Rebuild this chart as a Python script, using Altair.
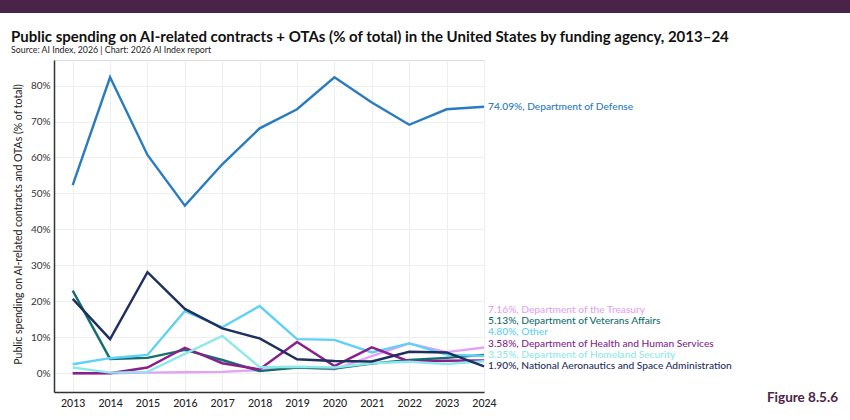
import altair as alt
import pandas as pd

years = list(range(2013, 2025))

series_names = [
    "Department of Defense",
    "Department of the Treasury",
    "Department of Veterans Affairs",
    "Other",
    "Department of Health and Human Services",
    "Department of Homeland Security",
    "National Aeronautics and Space Administration",
]
series_colors = ["#2a7bbf", "#e3a3f5", "#13706d", "#5fd0f7", "#8a1f8c", "#8fe8ea", "#1f2f5e"]

dod = [52.3, 82.3, 60.7, 46.6, 58.1, 68.1, 73.4, 82.3, 75.3, 69.1, 73.4, 74.09]
treasury = [0.0, 0.0, 0.2, 0.3, 0.4, 0.9, 1.6, 1.1, 4.8, 8.3, 5.9, 7.16]
veterans = [23.0, 4.0, 4.3, 6.5, 3.7, 0.6, 1.6, 1.3, 2.7, 3.7, 4.3, 5.13]
other = [2.5, 4.2, 5.1, 17.3, 12.8, 18.7, 9.5, 9.3, 5.8, 8.3, 5.2, 4.80]
hhs = [0.0, 0.0, 1.6, 7.1, 2.8, 1.1, 8.7, 2.0, 7.2, 3.3, 3.5, 3.58]
homeland = [1.6, 0.2, 0.4, 5.4, 10.4, 1.7, 1.8, 1.6, 2.8, 3.2, 2.6, 3.35]
nasa = [20.7, 9.5, 28.1, 17.9, 12.5, 9.7, 3.9, 3.4, 3.3, 6.0, 5.8, 1.90]

series_values = [dod, treasury, veterans, other, hhs, homeland, nasa]

rows = []
for name, vals in zip(series_names, series_values):
    for yr, v in zip(years, vals):
        rows.append({"year": yr, "series": name, "value": v})
df = pd.DataFrame(rows)

# end labels with simple collision avoidance (in data units)
gap = 3.15
ends = [(name, vals[-1]) for name, vals in zip(series_names, series_values)]
lower = sorted([e for e in ends if e[0] != "Department of Defense"], key=lambda e: e[1])
label_pos = {"Department of Defense": dod[-1]}
prev = None
for name, v in lower:
    p = v if prev is None else max(v, prev + gap)
    label_pos[name] = p
    prev = p
lab = pd.DataFrame([
    {"series": n, "year": years[-1], "ly": label_pos[n], "text": f"{v:.2f}%, {n}"}
    for n, v in ends
])

color_scale = alt.Scale(domain=series_names, range=series_colors)
xscale = alt.Scale(domain=[2012.5, 2024], nice=False, zero=False)
yscale = alt.Scale(domain=[-5.2, 87.1], nice=False, zero=False)

FONT = "Lato"

xaxis = alt.Axis(
    values=years, format="d", title=None, grid=True, gridColor="#eeeeee",
    domainColor="#333333", domainWidth=1.5, ticks=False, labelPadding=6,
    labelOverlap=False, labelFlush=False, labelBound=False,
    labelFontSize=10.5, labelColor="#222222", labelFont=FONT, labelFontWeight=500)
yaxis = alt.Axis(
    values=list(range(0, 90, 10)), labelExpr="datum.value + '%'",
    title="Public spending on AI-related contracts and OTAs (% of total)",
    titleFont=FONT, titleFontSize=10.5, titleFontWeight="normal", titleColor="#222222",
    titleAngle=270, titleX=-36, titleY=164, titleAlign="center", titleBaseline="middle",
    grid=True, gridColor="#eeeeee", domainColor="#333333", domainWidth=1.5,
    ticks=False, labelPadding=4, labelFontSize=10, labelColor="#333333", labelFont=FONT,
    labelOverlap=False)

lines = alt.Chart(df).mark_line(strokeWidth=2.4, strokeJoin="miter").encode(
    x=alt.X("year:Q", scale=xscale, axis=xaxis),
    y=alt.Y("value:Q", scale=yscale, axis=yaxis),
    color=alt.Color("series:N", scale=color_scale, legend=None),
    order=alt.Order("year:Q"),
)

labels = alt.Chart(lab).mark_text(align="left", baseline="middle", dx=4, fontSize=10.2,
                                  font=FONT, fontWeight=500).encode(
    x=alt.X("year:Q", scale=xscale, axis=xaxis),
    y=alt.Y("ly:Q", scale=yscale, axis=yaxis),
    text="text:N",
    color=alt.Color("series:N", scale=color_scale, legend=None),
)

one = pd.DataFrame({"a": [0]})
bar = alt.Chart(one).mark_rect(color="#4b2349").encode(
    x=alt.value(-54), x2=alt.value(796), y=alt.value(-60), y2=alt.value(-47))
title = alt.Chart(one).mark_text(align="left", baseline="middle", fontSize=15,
                                 fontWeight="bold", font=FONT, color="#111111").encode(
    x=alt.value(-43), y=alt.value(-23),
    text=alt.value("Public spending on AI-related contracts + OTAs (% of total) in the United States by funding agency, 2013–24"))
subtitle = alt.Chart(one).mark_text(align="left", baseline="middle", fontSize=8.8,
                                    font=FONT, color="#222222").encode(
    x=alt.value(-43), y=alt.value(-10),
    text=alt.value("Source: AI Index, 2026 | Chart: 2026 AI Index report"))
fig = alt.Chart(one).mark_text(align="right", baseline="middle", fontSize=13.5,
                               fontWeight="bold", font=FONT, color="#4b2349").encode(
    x=alt.value(784), y=alt.value(338), text=alt.value("Figure 8.5.6"))

chart = alt.layer(lines, labels, bar, title, subtitle, fig).properties(
    width=430, height=332,
    autosize=alt.AutoSizeParams(type="none"),
    padding={"left": 54, "top": 60, "right": 366, "bottom": 28},
).configure_view(stroke=None).configure(background="white")

chart.save("out.html", embed_options={"renderer": "svg", "actions": False})
